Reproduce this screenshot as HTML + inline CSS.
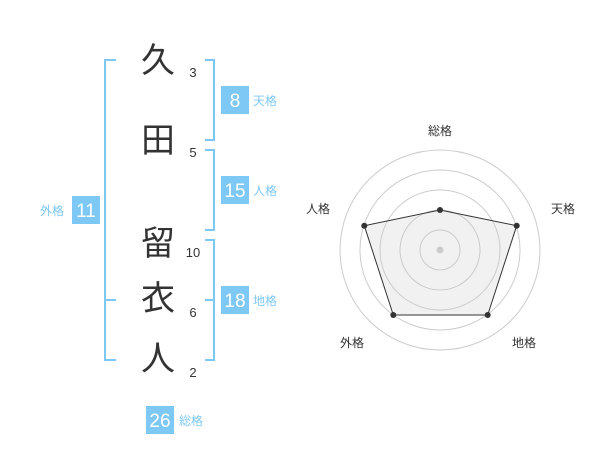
<!DOCTYPE html>
<html><head><meta charset="utf-8"><style>
body{margin:0;background:#fff;width:600px;height:470px;overflow:hidden;font-family:"Liberation Sans","Noto Sans CJK JP",sans-serif}
</style></head><body>
<svg width="600" height="470" xmlns="http://www.w3.org/2000/svg" font-family="Liberation Sans, Noto Sans CJK JP, sans-serif">
<g fill="none" stroke="#7dc8f5" stroke-width="2">
<path d="M116 60H105V360H116M105 300H116"/>
<path d="M205 60H214V140H205"/>
<path d="M205 150H214V230H205"/>
<path d="M205 240H214V360H205M205 300H214"/>
</g>
<g fill="#333" font-size="34" text-anchor="middle">
<text x="158" y="72">久</text>
<text x="158" y="152">田</text>
<text x="158" y="255">留</text>
<text x="158" y="310">衣</text>
<text x="158" y="370">人</text>
</g>
<g fill="#333" font-size="13" text-anchor="middle">
<text x="193" y="77">3</text>
<text x="193" y="157">5</text>
<text x="193" y="257">10</text>
<text x="193" y="317">6</text>
<text x="193" y="377">2</text>
</g>
<g fill="#7dc8f5">
<rect x="221" y="86" width="28" height="28"/>
<rect x="221" y="176" width="28" height="28"/>
<rect x="221" y="286" width="28" height="28"/>
<rect x="72" y="196" width="28" height="28"/>
<rect x="146" y="406" width="28" height="28"/>
</g>
<g fill="#fff" font-size="19" text-anchor="middle">
<text x="235" y="107">8</text>
<text x="235" y="197">15</text>
<text x="235" y="307">18</text>
<text x="86" y="217">11</text>
<text x="160" y="427">26</text>
</g>
<g fill="#7dc8f5" font-size="12">
<text x="253" y="105">天格</text>
<text x="253" y="195">人格</text>
<text x="253" y="305">地格</text>
<text x="40" y="215">外格</text>
<text x="179" y="425">総格</text>
</g>
<g fill="none" stroke="#ccc" stroke-width="1">
<circle cx="440" cy="250" r="20"/><circle cx="440" cy="250" r="40"/><circle cx="440" cy="250" r="60"/><circle cx="440" cy="250" r="80"/><circle cx="440" cy="250" r="100"/>
</g>
<circle cx="440" cy="250" r="3.5" fill="#ccc"/>
<polygon points="440,210 516.7,225.7 487.7,315 393.3,315 364.3,225.7" fill="rgba(200,200,200,0.25)" stroke="#333" stroke-width="1"/>
<g fill="#333">
<circle cx="440" cy="210" r="3"/><circle cx="516.7" cy="225.7" r="3"/><circle cx="487.7" cy="315" r="3"/><circle cx="393.3" cy="315" r="3"/><circle cx="364.3" cy="225.7" r="3"/>
</g>
<g fill="#333" font-size="12" text-anchor="middle">
<text x="440" y="135">総格</text>
<text x="563" y="213">天格</text>
<text x="524" y="347">地格</text>
<text x="352" y="347">外格</text>
<text x="318" y="213">人格</text>
</g>
</svg>
</body></html>
